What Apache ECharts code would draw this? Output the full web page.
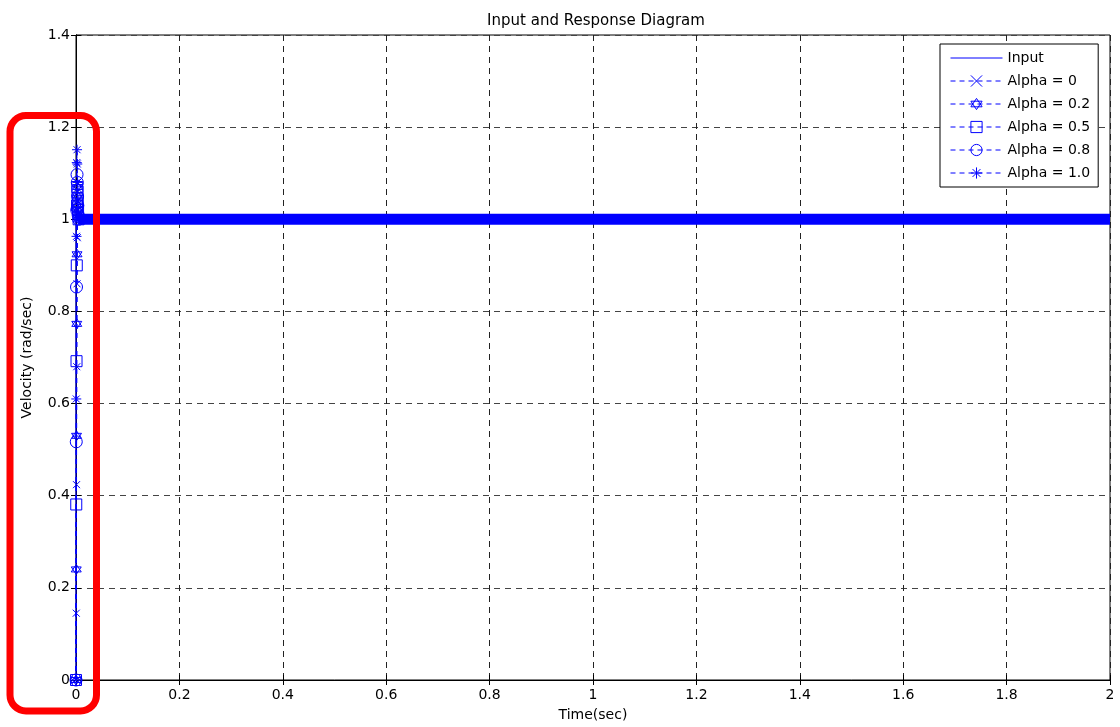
<!DOCTYPE html>
<html>
<head>
<meta charset="utf-8">
<title>Input and Response Diagram</title>
<script src="https://cdn.jsdelivr.net/npm/echarts@6/dist/echarts.min.js"></script>
<style>
	html, body { margin: 0; padding: 0; background: #fff; }
	#chart { width: 1120px; height: 727px; }
</style>
</head>
<body>
<div id="chart"></div>
<script>
// sample times (sec) of the start-up transient, all squeezed next to t = 0
const time = [0, 0.0005, 0.001, 0.0015, 0.002, 0.0025, 0.003, 0.0035, 0.004, 0.005];

// step input
const inputTime = [0, 0, 2];
const inputValue = [0, 1, 1];

// velocity responses (rad/sec)
const alpha0 = [0, 0.145, 0.424, 0.68, 0.86, 0.96, 1.01, 1.02, 1.01, 1.0];
const alpha02 = [0, 0.24, 0.53, 0.773, 0.924, 1.03, 1.07, 1.05, 1.02, 1.0];
const alpha05 = [0, 0.381, 0.692, 0.9, 1.03, 1.07, 1.06, 1.04, 1.02, 1.0];
const alpha08 = [0, 0.517, 0.853, 1.02, 1.097, 1.08, 1.05, 1.03, 1.01, 1.0];
const alpha10 = [0, 0.61, 0.963, 1.123, 1.151, 1.12, 1.08, 1.04, 1.01, 1.0];

// steady state after the transient (the markers pile up into a thick band)
const steadyTime = [0.005, 2];
const steadyValue = [1, 1];

const BLUE = "#0000ff";
const FONT = "DejaVu Sans";

// marker shapes like matlab's x, hexagram, square, circle, *
const SYM_X = "path://M0,0L10,10M10,0L0,10";
const SYM_HEX = "path://M5,0L9.33,7.5L0.67,7.5ZM5,10L0.67,2.5L9.33,2.5Z";
const SYM_SQUARE = "path://M0,0L10,0L10,10L0,10Z";
const SYM_CIRCLE = "path://M10,5A5,5,0,1,1,0,5A5,5,0,1,1,10,5Z";
const SYM_STAR = "path://M5,0L5,10M0,5L10,5M1.5,1.5L8.5,8.5M8.5,1.5L1.5,8.5";

function pairs(xs, ys) {
	return xs.map((x, i) => [x, ys[i]]);
}

function alphaSeries(name, values, symbol, size) {
	return {
		name: name,
		type: "line",
		data: pairs(time, values),
		symbol: symbol,
		symbolSize: size,
		showAllSymbol: true,
		itemStyle: { color: "rgba(0,0,0,0)", borderColor: BLUE, borderWidth: 1 },
		lineStyle: { color: BLUE, width: 1, type: [5, 4] },
		z: 4
	};
}

const chart = echarts.init(document.getElementById("chart"));

const option = {
	animation: false,
	backgroundColor: "#fff",
	textStyle: { fontFamily: FONT, color: "#000" },
	title: {
		text: "Input and Response Diagram",
		left: 591,
		textAlign: "center",
		top: 9,
		textStyle: { fontFamily: FONT, fontSize: 15, fontWeight: "normal", color: "#000" }
	},
	legend: {
		data: [
			{ name: "Input", itemStyle: { opacity: 0 } },
			"Alpha = 0",
			"Alpha = 0.2",
			"Alpha = 0.5",
			"Alpha = 0.8",
			"Alpha = 1.0"
		],
		orient: "vertical",
		left: 940,
		top: 44,
		align: "left",
		itemWidth: 52,
		itemHeight: 14,
		itemGap: 9,
		padding: [7, 8, 7, 10],
		backgroundColor: "#fff",
		borderColor: "#000",
		borderWidth: 1,
		borderRadius: 0,
		itemStyle: { borderWidth: 1 },
		lineStyle: { width: 1 },
		textStyle: { fontFamily: FONT, fontSize: 14, color: "#000" }
	},
	grid: {
		left: 76,
		right: 10,
		top: 35,
		bottom: 45,
		show: true,
		backgroundColor: "#fff",
		borderColor: "#000",
		borderWidth: 1
	},
	xAxis: [
		{
			type: "value",
			min: 0,
			max: 2,
			interval: 0.2,
			name: "Time(sec)",
			nameLocation: "middle",
			nameGap: 28,
			nameTextStyle: { fontFamily: FONT, fontSize: 14, color: "#000" },
			axisLine: { show: true, lineStyle: { color: "#000" } },
			axisTick: { show: true, inside: true, length: 5, lineStyle: { color: "#000" } },
			axisLabel: { fontFamily: FONT, fontSize: 14, color: "#000", margin: 8 },
			splitLine: { show: true, lineStyle: { color: "#222", type: [6, 5], width: 1 } }
		},
		{
			type: "value",
			position: "top",
			min: 0,
			max: 2,
			interval: 0.2,
			axisLine: { show: true, lineStyle: { color: "#000" } },
			axisTick: { show: true, inside: true, length: 5, lineStyle: { color: "#000" } },
			axisLabel: { show: false },
			splitLine: { show: false }
		}
	],
	yAxis: [
		{
			type: "value",
			min: 0,
			max: 1.4,
			interval: 0.2,
			name: "Velocity (rad/sec)",
			nameLocation: "middle",
			nameGap: 42,
			nameTextStyle: { fontFamily: FONT, fontSize: 14, color: "#000" },
			axisLine: { show: true, lineStyle: { color: "#000" } },
			axisTick: { show: true, inside: true, length: 5, lineStyle: { color: "#000" } },
			axisLabel: { fontFamily: FONT, fontSize: 14, color: "#000", margin: 6 },
			splitLine: { show: true, lineStyle: { color: "#444", type: [6, 5], width: 1 } }
		},
		{
			type: "value",
			position: "right",
			min: 0,
			max: 1.4,
			interval: 0.2,
			axisLine: { show: true, lineStyle: { color: "#000" } },
			axisTick: { show: true, inside: true, length: 5, lineStyle: { color: "#000" } },
			axisLabel: { show: false },
			splitLine: { show: false }
		}
	],
	series: [
		{
			name: "steady",
			type: "line",
			data: pairs(steadyTime, steadyValue),
			symbol: "none",
			silent: true,
			lineStyle: { color: BLUE, width: 11 },
			z: 3
		},
		{
			name: "Input",
			type: "line",
			data: pairs(inputTime, inputValue),
			symbol: "none",
			itemStyle: { color: BLUE },
			lineStyle: { color: BLUE, width: 1 },
			z: 5
		},
		alphaSeries("Alpha = 0", alpha0, SYM_X, 7),
		alphaSeries("Alpha = 0.2", alpha02, SYM_HEX, 10),
		alphaSeries("Alpha = 0.5", alpha05, SYM_SQUARE, 11),
		alphaSeries("Alpha = 0.8", alpha08, SYM_CIRCLE, 12),
		alphaSeries("Alpha = 1.0", alpha10, SYM_STAR, 10)
	],
	graphic: [
		{
			// red highlight box around the start-up transient
			type: "rect",
			shape: { x: 10, y: 115.5, width: 86.5, height: 595.5, r: 16 },
			style: { fill: "none", stroke: "#ff0000", lineWidth: 7 },
			z: 100
		}
	]
};

chart.setOption(option);
</script>
</body>
</html>
